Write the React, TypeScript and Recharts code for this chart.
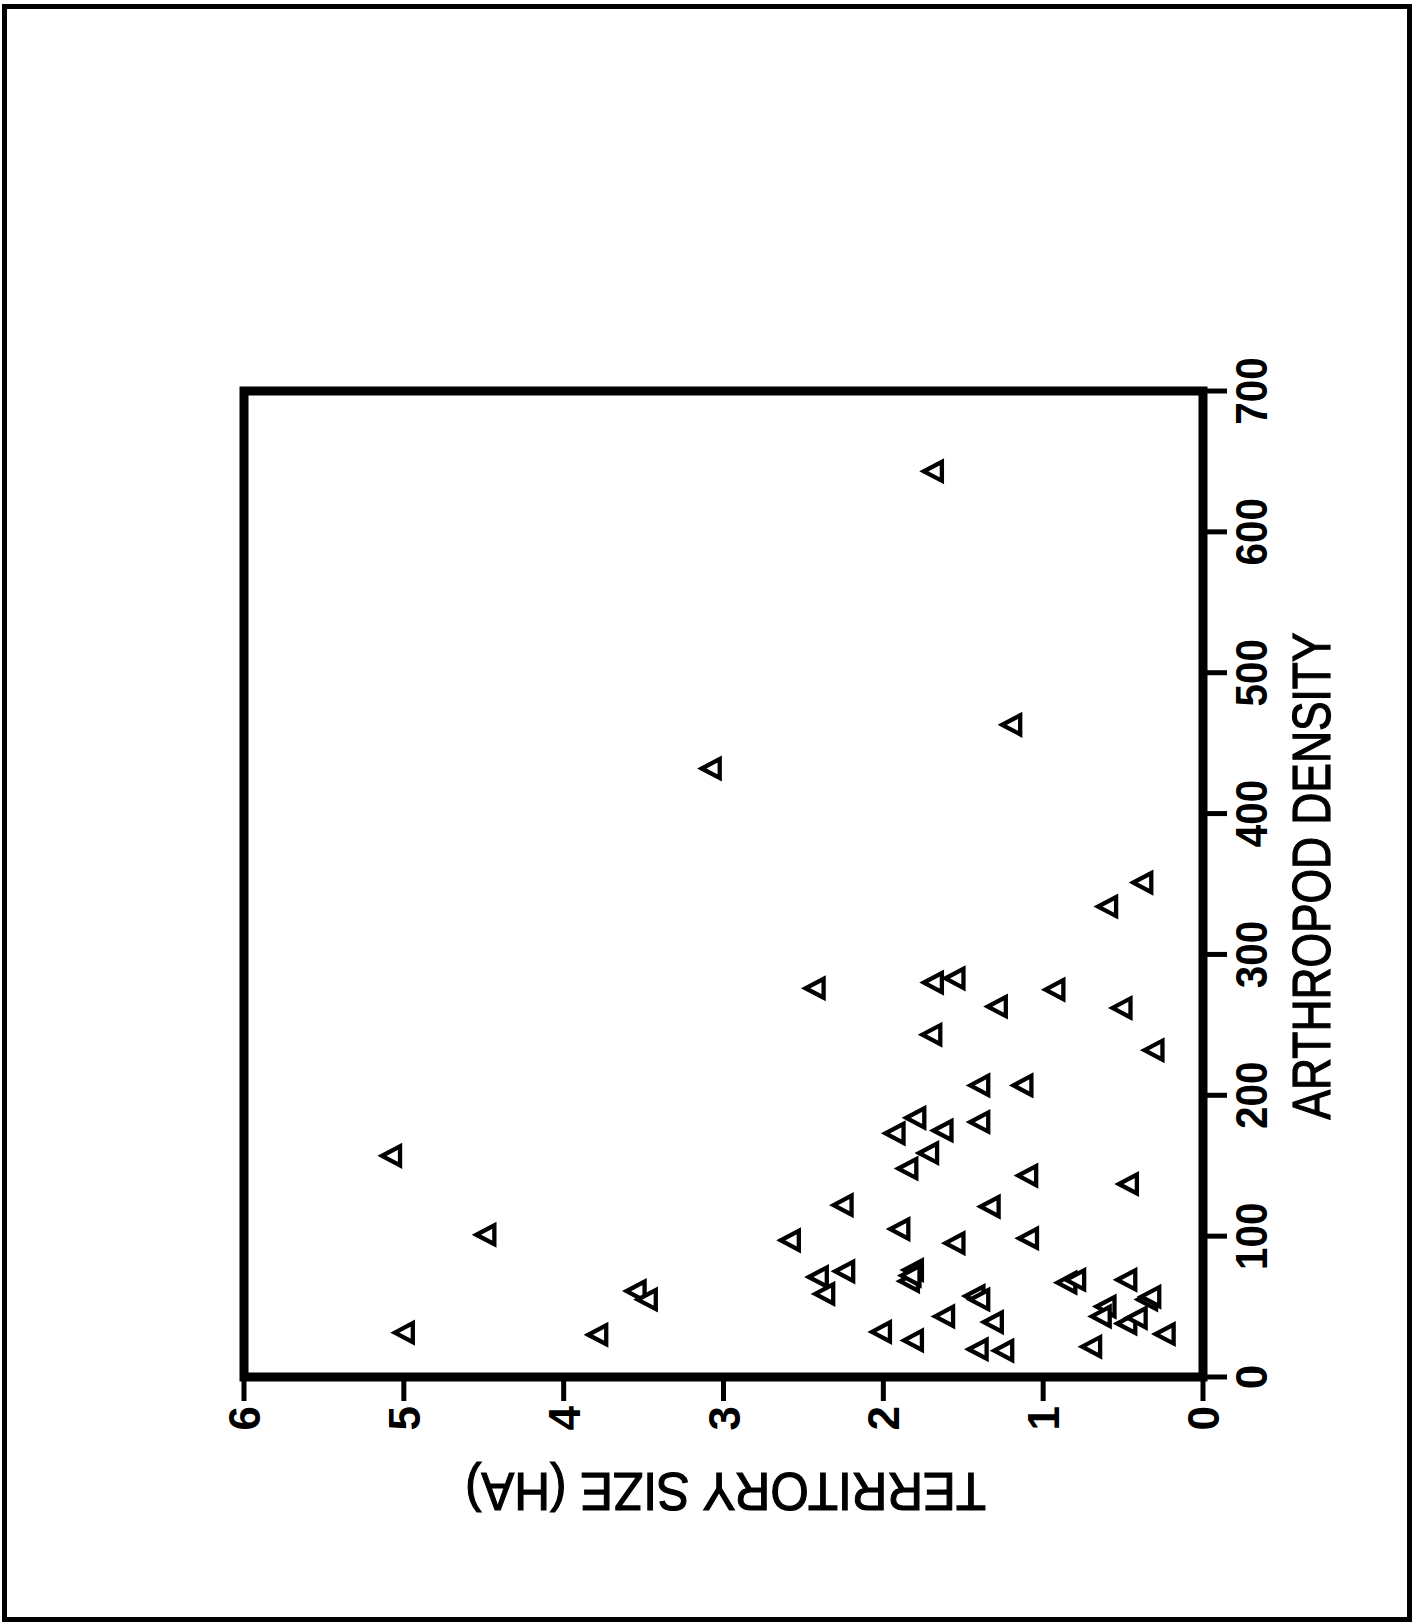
import { ScatterChart, Scatter, XAxis, YAxis, ReferenceArea } from "recharts";

// arthropod density per territory (x) and territory size in ha (y)
const density = [
  334, 276, 280, 283, 275, 263, 262, 243, 232, 207, 207, 184, 173, 175, 181, 159, 148, 143, 137, 122,
  121, 105, 97, 95, 98.5, 71, 75, 59, 76, 68, 72, 67, 69, 69, 57.5, 55, 43, 39, 32, 26,
  19.7, 18.7, 21.5, 50, 43, 38, 42, 55, 57, 30.5,
  157, 101, 61, 55, 31.5, 30, 643, 463, 432, 351,
];
const territory = [
  0.6, 2.43, 1.69, 1.555, 0.93, 1.29, 0.51, 1.7, 0.31, 1.4, 1.13, 1.8, 1.93, 1.63, 1.4, 1.72, 1.85, 1.1, 0.47, 2.255,
  1.335, 1.9, 2.585, 1.555, 1.095, 2.41, 2.245, 2.37, 1.815, 1.84, 1.83, 0.855, 0.8, 0.48, 1.43, 1.4, 1.62, 1.315, 2.015, 1.815,
  1.41, 1.25, 0.7, 0.61, 0.64, 0.48, 0.415, 0.35, 0.33, 0.24,
  5.08, 4.49, 3.55, 3.48, 5.0, 3.79, 1.69, 1.2, 3.08, 0.38,
];
const densityTicks = [0, 100, 200, 300, 400, 500, 600, 700];
const territoryTicks = [0, 1, 2, 3, 4, 5, 6];

const data = density.map((d, i) => ({ density: d, territory: territory[i] }));

// the figure is printed turned a quarter turn, so the chart is drawn upright and rotated
const PAGE_W = 1413;
const PAGE_H = 1623;

const tickFont = '"Liberation Sans", Arial, sans-serif';
const labelFont = '"Liberation Sans Narrow", "Liberation Sans", Arial, sans-serif';

function Triangle(props: any) {
  const { cx, cy } = props;
  const b = 19;
  const h = 18;
  return (
    <polygon
      points={`${cx},${cy - h / 2} ${cx - b / 2},${cy + h / 2} ${cx + b / 2},${cy + h / 2}`}
      fill="#fff"
      stroke="#000"
      strokeWidth={4.3}
      strokeLinejoin="miter"
    />
  );
}

function DensityTick(props: any) {
  const { x, y, payload } = props;
  const s = String(payload.value);
  return (
    <text
      x={x}
      y={y}
      dy={40}
      textAnchor="middle"
      fontFamily={tickFont}
      fontWeight="bold"
      fontSize={44}
      fill="#000"
      {...(s.length > 1 ? { textLength: 22.5 * s.length, lengthAdjust: "spacingAndGlyphs" } : {})}
    >
      {s}
    </text>
  );
}

function TerritoryTick(props: any) {
  const { x, y, payload } = props;
  return (
    <text x={x} y={y} dy={16} textAnchor="end" fontFamily={tickFont} fontWeight="bold" fontSize={44} fill="#000">
      {payload.value}
    </text>
  );
}

function DensityLabel(props: any) {
  const { x, y, width } = props.viewBox;
  return (
    <text
      x={x + width / 2 + 8}
      y={y + 127}
      textAnchor="middle"
      fontFamily={labelFont}
      fontSize={53}
      fill="#000"
      stroke="#000"
      strokeWidth={1.2}
      textLength={487}
      lengthAdjust="spacingAndGlyphs"
    >
      ARTHROPOD DENSITY
    </text>
  );
}

function TerritoryLabel(props: any) {
  const { y, height } = props.viewBox;
  const cx = 150;
  const cy = y + height / 2 + 2;
  return (
    <text
      x={cx}
      y={cy}
      transform={`rotate(-90, ${cx}, ${cy})`}
      textAnchor="middle"
      fontFamily={labelFont}
      fontSize={53}
      fill="#000"
      stroke="#000"
      strokeWidth={1.2}
      textLength={521}
      lengthAdjust="spacingAndGlyphs"
    >
      TERRITORY SIZE (HA)
    </text>
  );
}

export default function App() {
  return (
    <div style={{ position: "absolute", left: 0, top: 0, width: PAGE_W, height: PAGE_H, overflow: "hidden", background: "#fff" }}>
      <div
        style={{
          position: "absolute",
          left: 0,
          top: 0,
          width: PAGE_H,
          height: PAGE_W,
          transformOrigin: "0 0",
          transform: `translateY(${PAGE_H}px) rotate(-90deg)`,
        }}
      >
        <div
          style={{
            position: "absolute",
            left: 1,
            top: 2,
            width: 1618,
            height: 1410,
            border: "5px solid #000",
            boxSizing: "border-box",
          }}
        />
        <div style={{ position: "absolute", left: 0, top: 0 }}>
          <ScatterChart width={PAGE_H} height={PAGE_W} margin={{ top: 244, right: 391, bottom: 0, left: 0 }}>
            <XAxis
              type="number"
              dataKey="density"
              domain={[0, 700]}
              ticks={densityTicks}
              height={210}
              axisLine={false}
              tickLine={{ stroke: "#000", strokeWidth: 5 }}
              tickSize={24}
              tickMargin={0}
              tick={<DensityTick />}
              label={{ content: <DensityLabel /> }}
              interval={0}
            />
            <YAxis
              type="number"
              dataKey="territory"
              domain={[0, 6]}
              ticks={territoryTicks}
              width={246}
              axisLine={false}
              tickLine={{ stroke: "#000", strokeWidth: 5 }}
              tickSize={24}
              tickMargin={5}
              tick={<TerritoryTick />}
              label={{ content: <TerritoryLabel /> }}
              interval={0}
            />
            <ReferenceArea x1={0} x2={700} y1={0} y2={6} fill="none" stroke="#000" strokeWidth={9} />
            <Scatter data={data} shape={<Triangle />} isAnimationActive={false} />
          </ScatterChart>
        </div>
      </div>
    </div>
  );
}
